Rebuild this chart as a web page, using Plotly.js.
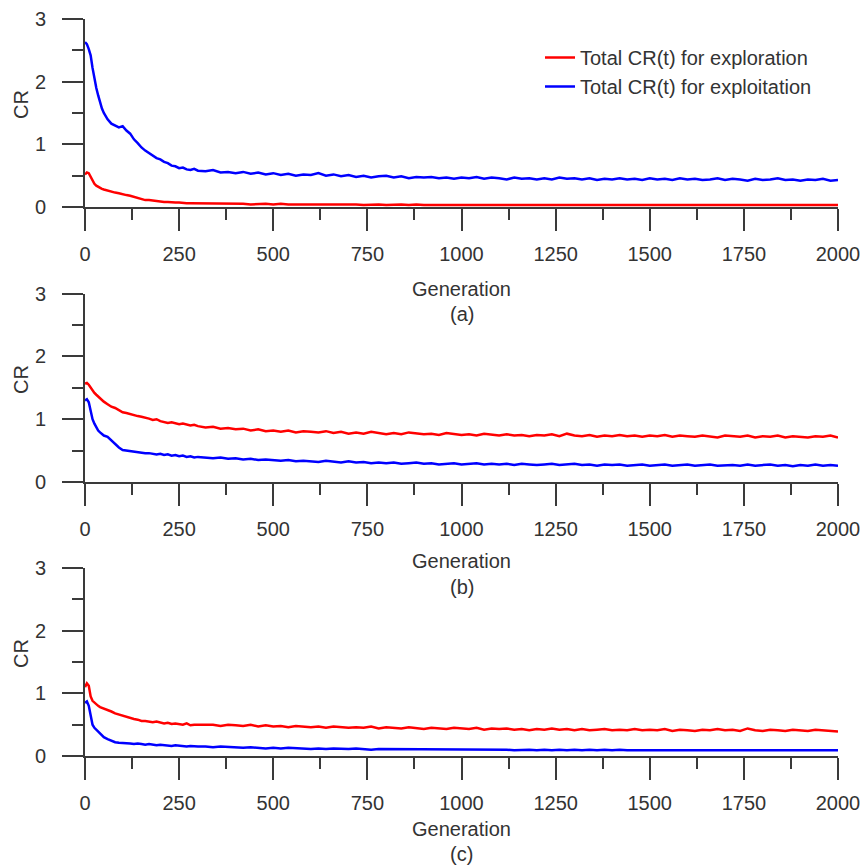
<!DOCTYPE html>
<html>
<head>
<meta charset="utf-8">
<script src="https://cdn.plot.ly/plotly-3.0.1.min.js"></script>
<style>html,body{margin:0;padding:0;background:#fff;}#chart{width:866px;height:867px;}</style>
</head>
<body>
<div id="chart"></div>
<script>
// Generations (x values)
const generations = [
  0,5,10,15,20,25,30,35,40,45,50,
  60,70,80,90,100,110,120,130,140,150,160,170,180,190,200,210,220,230,240,250,260,270,280,290,300,
  320,340,360,380,400,420,440,460,480,500,520,540,560,580,600,620,640,660,680,700,
  720,740,760,780,800,820,840,860,880,900,920,940,960,980,1000,1020,1040,1060,1080,1100,
  1120,1140,1160,1180,1200,1220,1240,1260,1280,1300,1320,1340,1360,1380,1400,1420,1440,1460,1480,1500,
  1520,1540,1560,1580,1600,1620,1640,1660,1680,1700,1720,1740,1760,1780,1800,1820,1840,1860,1880,1900,
  1920,1940,1960,1980,2000
];

// Panel (a)
const aExploration = [
  0.52,0.55,0.54,0.48,0.42,0.37,0.34,0.32,0.30,0.29,0.28,
  0.26,0.24,0.23,0.22,0.20,0.19,0.18,0.16,0.14,0.12,0.11,0.11,0.10,0.09,0.09,0.08,0.08,0.07,0.07,0.07,0.06,0.06,0.06,0.06,0.05,
  0.06,0.05,0.05,0.06,0.05, 0.05,0.04,0.05,0.05,0.04, 0.05,0.04,0.04,0.05,0.04, 0.04,0.05,0.04,0.04,0.04,
  0.04,0.03,0.04,0.04,0.03, 0.04,0.04,0.03,0.04,0.03, 0.03,0.04,0.03,0.03,0.04, 0.03,0.03,0.04,0.03,0.03,
  0.04,0.03,0.03,0.03,0.04, 0.03,0.03,0.04,0.03,0.03, 0.03,0.04,0.03,0.03,0.03, 0.04,0.03,0.03,0.04,0.03,
  0.03,0.03,0.04,0.03,0.03, 0.03,0.04,0.03,0.03,0.04, 0.03,0.03,0.03,0.04,0.03, 0.04,0.03,0.03,0.03,0.04,
  0.03,0.03,0.04,0.03,0.03
];
const aExploitation = [
  2.63,2.60,2.52,2.42,2.22,2.05,1.90,1.78,1.65,1.57,1.50,
  1.40,1.33,1.30,1.27,1.29,1.22,1.17,1.08,1.02,0.95,0.90,0.86,0.83,0.78,0.76,0.72,0.70,0.66,0.65,0.62,0.63,0.60,0.59,0.61,0.58,
  0.57,0.59,0.55,0.56,0.54, 0.56,0.53,0.55,0.52,0.54, 0.51,0.53,0.50,0.52,0.51, 0.54,0.50,0.52,0.49,0.51,
  0.48,0.50,0.47,0.49,0.50, 0.47,0.49,0.46,0.48,0.47, 0.48,0.46,0.47,0.45,0.47, 0.46,0.48,0.45,0.47,0.46,
  0.44,0.47,0.45,0.46,0.44, 0.46,0.44,0.47,0.45,0.46, 0.44,0.46,0.43,0.45,0.44, 0.46,0.44,0.45,0.43,0.46,
  0.44,0.45,0.43,0.46,0.44, 0.45,0.43,0.44,0.46,0.43, 0.45,0.44,0.42,0.45,0.43, 0.44,0.46,0.43,0.44,0.42,
  0.44,0.43,0.45,0.42,0.43
];

// Panel (b)
const bExploration = [
  1.57,1.58,1.55,1.50,1.46,1.42,1.39,1.36,1.34,1.30,1.28,
  1.24,1.20,1.18,1.14,1.11,1.10,1.08,1.06,1.05,1.04,1.03,1.01,0.99,1.00,0.97,0.96,0.94,0.95,0.93,0.92,0.93,0.91,0.90,0.91,0.89,
  0.87,0.88,0.85,0.86,0.84, 0.85,0.82,0.84,0.81,0.82, 0.80,0.82,0.79,0.81,0.80, 0.79,0.81,0.78,0.80,0.77,
  0.79,0.77,0.80,0.78,0.76, 0.78,0.76,0.79,0.77,0.76, 0.77,0.75,0.78,0.76,0.75, 0.76,0.74,0.77,0.75,0.74,
  0.76,0.74,0.75,0.73,0.75, 0.74,0.76,0.73,0.77,0.74, 0.73,0.75,0.72,0.74,0.73, 0.75,0.73,0.74,0.72,0.74,
  0.73,0.75,0.72,0.74,0.73, 0.72,0.74,0.73,0.71,0.74, 0.73,0.72,0.74,0.71,0.73, 0.72,0.74,0.71,0.73,0.72,
  0.71,0.73,0.72,0.74,0.71
];
const bExploitation = [
  1.30,1.32,1.27,1.12,1.00,0.93,0.86,0.82,0.79,0.76,0.74,
  0.72,0.66,0.60,0.55,0.51,0.50,0.49,0.48,0.48,0.47,0.46,0.46,0.45,0.44,0.45,0.43,0.44,0.42,0.43,0.41,0.42,0.40,0.41,0.39,0.40,
  0.39,0.38,0.39,0.37,0.38, 0.36,0.37,0.35,0.36,0.35, 0.34,0.35,0.33,0.34,0.33, 0.32,0.34,0.32,0.31,0.33,
  0.31,0.32,0.30,0.31,0.30, 0.31,0.29,0.30,0.31,0.29, 0.30,0.28,0.29,0.30,0.28, 0.29,0.30,0.28,0.29,0.28,
  0.29,0.27,0.29,0.28,0.27, 0.28,0.29,0.27,0.28,0.29, 0.27,0.28,0.26,0.28,0.27, 0.28,0.26,0.27,0.28,0.26,
  0.27,0.28,0.26,0.27,0.28, 0.26,0.27,0.28,0.26,0.27, 0.27,0.26,0.28,0.26,0.27, 0.28,0.26,0.27,0.25,0.27,
  0.26,0.28,0.26,0.27,0.26
];

// Panel (c)
const cExploration = [
  1.10,1.16,1.12,0.95,0.88,0.85,0.82,0.80,0.78,0.77,0.76,
  0.74,0.71,0.68,0.66,0.64,0.62,0.61,0.59,0.58,0.56,0.56,0.55,0.54,0.55,0.53,0.52,0.53,0.51,0.52,0.51,0.50,0.52,0.49,0.50,0.50,
  0.49,0.50,0.48,0.50,0.49, 0.48,0.50,0.47,0.49,0.47, 0.48,0.46,0.48,0.47,0.46, 0.47,0.45,0.47,0.46,0.45,
  0.46,0.45,0.47,0.44,0.46, 0.45,0.44,0.46,0.45,0.43, 0.45,0.44,0.43,0.45,0.44, 0.43,0.45,0.42,0.44,0.43,
  0.44,0.42,0.43,0.41,0.43, 0.42,0.44,0.42,0.43,0.41, 0.43,0.41,0.42,0.43,0.41, 0.42,0.41,0.43,0.41,0.42,
  0.41,0.43,0.40,0.42,0.41, 0.40,0.42,0.41,0.43,0.41, 0.42,0.40,0.44,0.41,0.40, 0.42,0.41,0.40,0.42,0.41,
  0.40,0.42,0.41,0.40,0.39
];
const cExploitation = [
  0.85,0.87,0.80,0.62,0.50,0.45,0.42,0.38,0.35,0.32,0.30,
  0.27,0.24,0.22,0.21,0.21,0.20,0.20,0.19,0.20,0.19,0.18,0.19,0.18,0.17,0.18,0.17,0.17,0.16,0.17,0.16,0.16,0.15,0.16,0.15,0.15,
  0.15,0.14,0.15,0.14,0.14, 0.13,0.14,0.13,0.12,0.13, 0.12,0.13,0.12,0.12,0.11, 0.12,0.11,0.12,0.11,0.11,
  0.12,0.11,0.10,0.11,0.11, 0.10,0.11,0.10,0.11,0.10, 0.11,0.10,0.10,0.11,0.10, 0.10,0.11,0.10,0.10,0.10,
  0.10,0.09,0.10,0.10,0.09, 0.10,0.09,0.10,0.09,0.10, 0.09,0.10,0.09,0.10,0.09, 0.10,0.09,0.09,0.10,0.09,
  0.09,0.10,0.09,0.09,0.10, 0.09,0.09,0.10,0.09,0.09, 0.10,0.09,0.09,0.10,0.09, 0.09,0.10,0.09,0.09,0.09,
  0.10,0.09,0.09,0.10,0.09
];

const seriesNames = ["Total CR(t) for exploration", "Total CR(t) for exploitation"];
const panelLabels = ["(a)", "(b)", "(c)"];
const xTickVals = [0,250,500,750,1000,1250,1500,1750,2000];
const yTickVals = [0,1,2,3];

const RED = "#ff0000", BLUE = "#0000ff";
const TXT = "#333333", AX = "#3a3a3a";
const FONT = "Liberation Sans, Arial, sans-serif";

const panels = [
  {ex: aExploration, et: aExploitation, xa: "x", ya: "y"},
  {ex: bExploration, et: bExploitation, xa: "x2", ya: "y2"},
  {ex: cExploration, et: cExploitation, xa: "x3", ya: "y3"}
];

const traces = [];
panels.forEach((p, i) => {
  traces.push({x: generations, y: p.ex, xaxis: p.xa, yaxis: p.ya, type: "scatter", mode: "lines",
    name: seriesNames[0], showlegend: i === 0, line: {color: RED, width: 2.5}});
  traces.push({x: generations, y: p.et, xaxis: p.xa, yaxis: p.ya, type: "scatter", mode: "lines",
    name: seriesNames[1], showlegend: i === 0, line: {color: BLUE, width: 2.5}});
});

function xAxis(anchor) {
  return {
    anchor: anchor, domain: [0, 1], range: [0, 2000], tickvals: xTickVals,
    ticks: "outside", ticklen: 22, tickwidth: 2, tickcolor: AX,
    minor: {dtick: 125, tick0: 0, ticks: "outside", ticklen: 11, tickwidth: 2, tickcolor: AX},
    showline: true, linecolor: AX, linewidth: 2, showgrid: false, zeroline: false,
    ticklabelstandoff: 6,
    tickfont: {family: FONT, size: 20, color: TXT}
  };
}
function yAxis(anchor, dom) {
  return {
    anchor: anchor, domain: dom, range: [0, 3], tickvals: yTickVals,
    ticks: "outside", ticklen: 21, tickwidth: 2, tickcolor: AX,
    minor: {dtick: 0.5, tick0: 0, ticks: "outside", ticklen: 11, tickwidth: 2, tickcolor: AX},
    showline: true, linecolor: AX, linewidth: 2, showgrid: false, zeroline: false,
    ticklabelstandoff: 12,
    tickfont: {family: FONT, size: 20, color: TXT}
  };
}

// pixel -> paper helpers for text placement
const PL = 85, PW = 753, PB = 756, PH = 737;
const px = v => (v - PL) / PW;
const py = v => (PB - v) / PH;

const annFont = {family: FONT, size: 20, color: TXT};
const genY = [289, 561, 829];
const labY = [314, 587, 854];
const crY = [105, 380, 654];
const annotations = [];
for (let i = 0; i < 3; i++) {
  annotations.push({text: "Generation", xref: "paper", yref: "paper", x: 0.5, y: py(genY[i]),
    xanchor: "center", yanchor: "middle", showarrow: false, font: annFont});
  annotations.push({text: panelLabels[i], xref: "paper", yref: "paper", x: 0.5, y: py(labY[i]),
    xanchor: "center", yanchor: "middle", showarrow: false, font: annFont});
  annotations.push({text: "CR", xref: "paper", yref: "paper", x: px(21), y: py(crY[i]),
    xanchor: "center", yanchor: "middle", textangle: -90, showarrow: false, font: annFont});
}

const layout = {
  width: 866, height: 867,
  margin: {l: 85, r: 28, t: 19, b: 111},
  paper_bgcolor: "#ffffff", plot_bgcolor: "#ffffff",
  font: {family: FONT, color: TXT},
  showlegend: true,
  legend: {x: px(540), y: py(38), xanchor: "left", yanchor: "top",
    bgcolor: "rgba(0,0,0,0)", font: {family: FONT, size: 20, color: TXT},
    tracegroupgap: 0},
  xaxis: xAxis("y"), yaxis: yAxis("x", [py(207), 1]),
  xaxis2: xAxis("y2"), yaxis2: yAxis("x2", [py(482), py(293.7)]),
  xaxis3: xAxis("y3"), yaxis3: yAxis("x3", [0, py(568)]),
  annotations: annotations
};

Plotly.newPlot("chart", traces, layout, {displayModeBar: false, staticPlot: true});
</script>
</body>
</html>
